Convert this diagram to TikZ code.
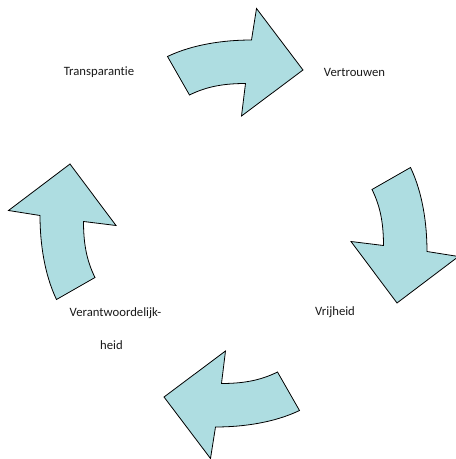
\documentclass[tikz,border=0pt]{standalone}
\usepackage{fontspec}
\setmainfont{Carlito}[Ligatures=NoCommon]
\definecolor{arrowfill}{RGB}{174,221,225}
\begin{document}
\begin{tikzpicture}[x=1pt,y=1pt,
  cyclearrow/.style={fill=arrowfill,draw=black,line width=0.8pt,line join=miter},
  lbl/.style={font=\fontsize{12.7}{15}\selectfont,inner sep=0pt,text=black!90}]
\useasboundingbox (0,0) rectangle (456,459);
% one curved block arrow, drawn around the cycle centre and turned by quarter turns
\coordinate (ctr) at (233.5,225.5);
\foreach \ang in {0,-90,-180,-270}{
  \begin{scope}[shift={(ctr)},rotate=\ang]
    \draw[cyclearrow] (-66,177) .. controls (-41,189) and (-10,193.5) .. (18,193.5)
      -- (23,225) -- (69.5,163.5) -- (8,117.5) -- (12,150)
      .. controls (-8,150) and (-26,147.5) .. (-44,138.5) -- cycle;
  \end{scope}
}
\node[lbl] (transp) at (99,386.5) {Transparantie};
\node[lbl] (vertr) at (354.5,386.5) {Vertrouwen};
\node[lbl] (vrij) at (335,147) {Vrijheid};
\node[lbl] (verant1) at (115.5,146) {Verantwoordelijk-};
\node[lbl] (verant2) at (111.5,114) {heid};
\end{tikzpicture}
\end{document}
